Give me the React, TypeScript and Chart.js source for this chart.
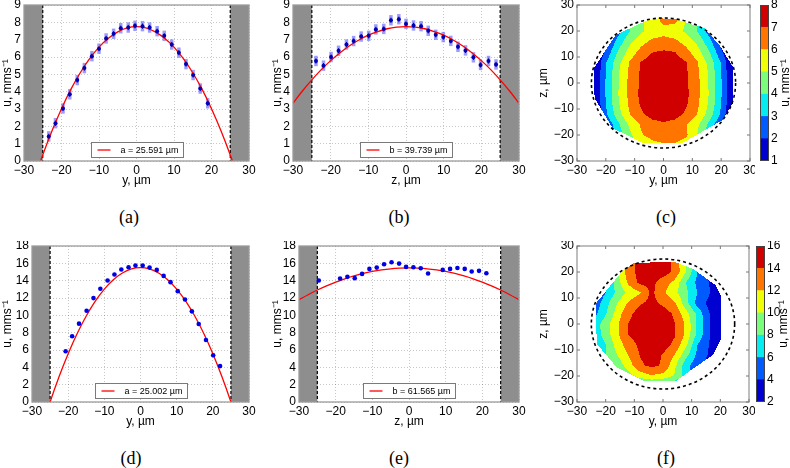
import React, { useEffect, useRef } from "react";
import { Chart, registerables } from "chart.js";

Chart.register(...registerables);
Chart.defaults.font.family = "'Liberation Sans', Arial, Helvetica, sans-serif";
Chart.defaults.font.size = 12;
Chart.defaults.color = "#000";

const AXIS_MIN = -30;
const AXIS_MAX = 30;
const WALL = 25;

// ---------------- (a) u(y) with error bars ----------------
const aPointY = [-23.4, -21.6, -19.6, -17.8, -15.8, -13.9, -11.9, -10.0, -8.1, -6.1, -4.2, -2.2, -0.4, 1.6, 3.5, 5.5, 7.4, 9.4, 11.3, 13.2, 15.1, 17.0, 19.0];
const aPointU = [1.42, 2.18, 3.03, 3.85, 4.67, 5.36, 6.05, 6.48, 7.07, 7.34, 7.66, 7.7, 7.8, 7.78, 7.7, 7.49, 7.22, 6.72, 6.25, 5.59, 4.96, 4.18, 3.33];
const aPointErr = [0.3, 0.3, 0.3, 0.3, 0.3, 0.3, 0.3, 0.3, 0.3, 0.3, 0.3, 0.3, 0.3, 0.3, 0.3, 0.3, 0.3, 0.3, 0.3, 0.3, 0.3, 0.3, 0.3];
const aFitY = [-27.5, -25, -22.5, -20, -17.5, -15, -12.5, -10, -7.5, -5, -2.5, 0, 2.5, 5, 7.5, 10, 12.5, 15, 17.5, 20, 22.5, 25, 27.5];
const aFitU = [-1.2, 0.35, 1.76, 3.02, 4.13, 5.09, 5.9, 6.57, 7.08, 7.45, 7.68, 7.75, 7.68, 7.45, 7.08, 6.57, 5.9, 5.09, 4.13, 3.02, 1.76, 0.35, -1.2];

// ---------------- (b) u(z) with error bars ----------------
const bPointZ = [-23.9, -21.9, -19.9, -17.9, -15.8, -13.9, -11.9, -9.9, -8.0, -5.9, -4.0, -1.9, 0.0, 2.0, 4.0, 5.9, 7.9, 9.9, 11.9, 13.8, 15.8, 17.9, 19.8, 21.9, 23.9];
const bPointU = [5.77, 5.5, 6.0, 6.36, 6.72, 6.92, 7.18, 7.22, 7.59, 7.62, 8.12, 8.18, 7.91, 7.82, 7.78, 7.51, 7.28, 7.15, 6.93, 6.59, 6.38, 5.98, 5.54, 5.77, 5.57];
const bPointErr = [0.3, 0.3, 0.3, 0.3, 0.3, 0.3, 0.3, 0.3, 0.3, 0.3, 0.3, 0.3, 0.3, 0.3, 0.3, 0.3, 0.3, 0.3, 0.3, 0.3, 0.3, 0.3, 0.3, 0.3, 0.3];
const bFitZ = [-30, -27.5, -25, -22.5, -20, -17.5, -15, -12.5, -10, -7.5, -5, -2.5, 0, 2.5, 5, 7.5, 10, 12.5, 15, 17.5, 20, 22.5, 25, 27.5, 30];
const bFitU = [3.33, 4.04, 4.68, 5.27, 5.79, 6.25, 6.65, 6.98, 7.26, 7.47, 7.63, 7.72, 7.75, 7.72, 7.63, 7.47, 7.26, 6.98, 6.65, 6.25, 5.79, 5.27, 4.68, 4.04, 3.33];

// ---------------- (d) u(y) ----------------
const dPointY = [-20.7, -18.9, -17.0, -14.9, -13.0, -11.1, -9.1, -7.2, -5.3, -3.3, -1.4, 0.6, 2.5, 4.5, 6.4, 8.3, 10.3, 12.3, 14.2, 16.1, 18.1, 20.1, 22.0];
const dPointU = [5.86, 7.58, 9.04, 10.53, 11.99, 13.06, 14.02, 14.71, 15.28, 15.55, 15.74, 15.74, 15.51, 15.24, 14.55, 13.83, 12.79, 11.83, 10.46, 9.0, 7.16, 5.4, 4.14];
const dFitY = [-27.5, -25, -22.5, -20, -17.5, -15, -12.5, -10, -7.5, -5, -2.5, 0, 2.5, 5, 7.5, 10, 12.5, 15, 17.5, 20, 22.5, 25, 27.5];
const dFitU = [-3.25, 0.0, 2.95, 5.58, 7.91, 9.92, 11.63, 13.02, 14.11, 14.88, 15.35, 15.5, 15.35, 14.88, 14.11, 13.02, 11.63, 9.92, 7.91, 5.58, 2.95, 0.0, -3.25];

// ---------------- (e) u(z) ----------------
const ePointZ = [-24.6, -18.8, -16.8, -14.8, -12.8, -10.8, -8.8, -6.8, -4.75, -2.7, -0.8, 1.2, 3.2, 5.2, 9.2, 11.2, 13.2, 15.2, 17.1, 19.1, 21.1];
const ePointU = [14.02, 14.25, 14.44, 14.29, 14.78, 15.36, 15.51, 15.89, 16.12, 15.97, 15.59, 15.55, 15.43, 14.82, 15.24, 15.36, 15.47, 15.36, 15.05, 15.13, 14.86];
const eFitZ = [-30, -27.5, -25, -22.5, -20, -17.5, -15, -12.5, -10, -7.5, -5, -2.5, 0, 2.5, 5, 7.5, 10, 12.5, 15, 17.5, 20, 22.5, 25, 27.5, 30];
const eFitU = [11.8, 12.38, 12.92, 13.4, 13.84, 14.22, 14.55, 14.83, 15.06, 15.24, 15.37, 15.44, 15.47, 15.44, 15.37, 15.24, 15.06, 14.83, 14.55, 14.22, 13.84, 13.4, 12.92, 12.38, 11.8];

// ---------------- contour maps (c) and (f) ----------------
const gridY = [-24, -20, -16, -12, -8, -4, 0, 4, 8, 12, 16, 20, 24];
const gridZ = [24, 20, 16, 12, 8, 4, 0, -4, -8, -12, -16, -20, -24];

// (c) u (mm/s) on the grid, one row per z
const cZ24 = [0.5, 0.8, 2.5, 3.9, 4.8, 5.4, 6.3, 6.3, 4.8, 3.9, 2.5, 0.8, 0.5];
const cZ20 = [0.5, 0.8, 2.5, 3.9, 4.8, 5.4, 5.6, 5.4, 4.8, 3.9, 2.5, 0.8, 0.5];
const cZ16 = [0.5, 1.6, 3.3, 4.7, 5.6, 6.2, 6.4, 6.2, 5.6, 4.7, 3.3, 1.6, 0.5];
const cZ12 = [0.5, 2.2, 4.0, 5.3, 6.3, 6.95, 7.1, 7.0, 6.3, 5.3, 4.0, 2.2, 0.5];
const cZ8 = [0.8, 2.9, 4.6, 6.0, 7.0, 7.5, 7.7, 7.5, 7.0, 6.0, 4.6, 2.9, 0.8];
const cZ4 = [0.9, 3.0, 4.8, 6.1, 7.1, 7.7, 7.85, 7.7, 7.1, 6.1, 4.8, 3.0, 0.9];
const cZ0 = [1.0, 3.1, 4.8, 6.2, 7.1, 7.7, 7.9, 7.7, 7.1, 6.2, 4.8, 3.1, 1.0];
const cZm4 = [1.0, 3.1, 4.9, 6.2, 7.2, 7.8, 7.95, 7.8, 7.2, 6.2, 4.9, 3.1, 1.0];
const cZm8 = [0.9, 3.0, 4.8, 6.1, 7.1, 7.7, 7.85, 7.7, 7.1, 6.1, 4.8, 3.0, 0.9];
const cZm12 = [0.7, 2.8, 4.5, 5.9, 6.8, 7.4, 7.6, 7.4, 6.8, 5.9, 4.5, 2.8, 0.7];
const cZm16 = [0.5, 2.0, 3.7, 5.1, 6.05, 6.6, 6.8, 6.6, 6.05, 5.1, 3.7, 2.0, 0.5];
const cZm20 = [0.5, 1.5, 3.3, 4.7, 5.9, 6.3, 6.4, 6.35, 6.1, 4.9, 3.3, 1.5, 0.5];
const cZm24 = [0.5, 1.1, 2.8, 4.2, 5.1, 5.7, 5.9, 5.9, 5.6, 4.2, 2.8, 1.1, 0.5];
const cGrid = [cZ24, cZ20, cZ16, cZ12, cZ8, cZ4, cZ0, cZm4, cZm8, cZm12, cZm16, cZm20, cZm24];
const cHullY = [-1.4, 4.4, 14.2, 19.4, 24.0, 24.0, 20.5, 6.7, -7.2, -17.6, -23.9, -24.2, -16.6, -5.4];
const cHullZ = [24.9, 24.5, 21.0, 14.6, 6.3, -7.8, -14.2, -23.0, -23.0, -17.4, -5.9, 5.6, 18.5, 24.2];
const cLevels = [1, 2, 3, 4, 5, 6, 7, 8];

// (f)
const fZ24 = [2.5, 4.5, 9.5, 12.8, 14.8, 15.2, 15.0, 13.5, 10.0, 6.0, 3.5, 2.0, 1.0];
const fZ20 = [3.0, 5.0, 10.0, 13.0, 14.8, 15.2, 15.0, 13.6, 10.0, 6.0, 3.5, 2.0, 1.0];
const fZ16 = [3.5, 5.5, 9.0, 12.5, 14.5, 14.6, 13.0, 11.5, 8.0, 5.5, 4.0, 2.5, 1.0];
const fZ12 = [4.0, 6.0, 8.5, 10.5, 11.8, 14.5, 12.4, 10.5, 8.5, 6.0, 4.2, 2.5, 1.0];
const fZ8 = [4.5, 7.2, 10.0, 12.3, 13.8, 14.6, 13.6, 12.3, 8.8, 5.2, 3.5, 2.3, 1.0];
const fZ4 = [5.3, 7.8, 11.0, 13.5, 14.9, 15.3, 15.0, 13.7, 10.8, 7.5, 4.1, 2.5, 1.0];
const fZ0 = [6.8, 9.1, 11.7, 14.05, 15.0, 15.4, 15.2, 14.1, 11.7, 7.6, 4.2, 2.5, 1.0];
const fZm4 = [6.6, 9.0, 11.6, 14.1, 15.0, 15.3, 15.1, 14.2, 11.6, 7.5, 4.2, 2.5, 1.0];
const fZm8 = [5.5, 7.9, 10.9, 13.0, 14.5, 15.0, 14.8, 13.6, 10.5, 6.0, 4.0, 2.5, 1.0];
const fZm12 = [5.5, 7.9, 9.9, 12.1, 14.1, 14.6, 13.9, 12.0, 8.6, 5.5, 3.8, 2.5, 1.0];
const fZm16 = [5.0, 7.0, 8.7, 11.0, 13.7, 14.4, 13.8, 10.5, 6.8, 4.5, 3.2, 2.2, 1.0];
const fZm20 = [4.5, 6.2, 7.6, 9.2, 10.8, 11.8, 11.3, 9.8, 7.2, 4.6, 3.0, 2.0, 1.0];
const fZm24 = [3.5, 4.5, 5.5, 6.2, 6.8, 6.6, 6.5, 6.0, 5.0, 3.5, 2.5, 1.5, 1.0];
const fGrid = [fZ24, fZ20, fZ16, fZ12, fZ8, fZ4, fZ0, fZm4, fZm8, fZm12, fZm16, fZm20, fZm24];
const fHullY = [-10.0, 3.9, 10.3, 18.4, 20.4, 20.4, 17.3, 9.7, 4.5, -6.5, -16.3, -23.1, -23.5, -18.7, -14.0];
const fHullZ = [23.5, 23.9, 21.3, 14.9, 10.4, -5.6, -12.0, -17.8, -21.9, -21.9, -16.5, -7.6, 7.8, 14.3, 20.6];
const fLevels = [2, 4, 6, 8, 10, 12, 14, 16];

const jetColors = ["#0000d1", "#005bff", "#06edf1", "#7bff7b", "#f0ff05", "#ff7500", "#d10000"];

const panelLabels = ["(a)", "(b)", "(c)", "(d)", "(e)", "(f)"];
const panelLabelX = [129, 399, 666, 131, 399, 666];
const panelLabelY = [217, 217, 217, 458, 458, 458];

// ---------------- helpers ----------------
const minus = (v: any) => String(v).replace("-", "\u2212");
const fitX = (h: number) => (s: any) => { s.height = h; s.paddingLeft = 0; s.paddingRight = 0; };
const fitY = (w: number) => (s: any) => { s.width = w; s.paddingTop = 0; s.paddingBottom = 0; };
const FRAME = "#9c9c9c";

function framePlugin(withTicks: boolean) {
  return {
    id: "frame",
    afterDraw(chart: any) {
      const { ctx, chartArea: a, scales } = chart;
      ctx.save();
      ctx.strokeStyle = FRAME;
      ctx.lineWidth = 1.3;
      ctx.setLineDash([]);
      ctx.strokeRect(a.left, a.top, a.right - a.left, a.bottom - a.top);
      if (withTicks) {
        ctx.lineWidth = 1;
        ctx.strokeStyle = "#777";
        ctx.beginPath();
        for (const t of scales.x.ticks) {
          const p = scales.x.getPixelForValue(t.value);
          ctx.moveTo(p, a.top); ctx.lineTo(p, a.top + 3);
          ctx.moveTo(p, a.bottom); ctx.lineTo(p, a.bottom - 3);
        }
        for (const t of scales.y.ticks) {
          const p = scales.y.getPixelForValue(t.value);
          ctx.moveTo(a.left, p); ctx.lineTo(a.left + 3, p);
          ctx.moveTo(a.right, p); ctx.lineTo(a.right - 3, p);
        }
        ctx.stroke();
      }
      ctx.restore();
    },
  };
}

const wallPlugin = {
  id: "walls",
  beforeDatasetsDraw(chart: any) {
    const { ctx, chartArea: a, scales } = chart;
    const x = scales.x;
    const l0 = x.getPixelForValue(AXIS_MIN), l1 = x.getPixelForValue(-WALL);
    const r0 = x.getPixelForValue(WALL), r1 = x.getPixelForValue(AXIS_MAX);
    ctx.save();
    ctx.fillStyle = "#8e8e8e";
    ctx.fillRect(l0, a.top, l1 - l0, a.bottom - a.top);
    ctx.fillRect(r0, a.top, r1 - r0, a.bottom - a.top);
    ctx.strokeStyle = "#000";
    ctx.lineWidth = 1.2;
    ctx.setLineDash([3, 2]);
    for (const p of [l1, r0]) {
      ctx.beginPath(); ctx.moveTo(p, a.top); ctx.lineTo(p, a.bottom); ctx.stroke();
    }
    ctx.restore();
  },
};

function errorBarPlugin(xs: number[], us: number[], errs: number[] | null) {
  return {
    id: "errbars",
    beforeDatasetsDraw(chart: any) {
      if (!errs) return;
      const { ctx, scales } = chart;
      ctx.save();
      ctx.strokeStyle = "rgba(90,90,255,0.6)";
      ctx.lineWidth = 3.5;
      xs.forEach((xv, i) => {
        const px = scales.x.getPixelForValue(xv);
        ctx.beginPath();
        ctx.moveTo(px, scales.y.getPixelForValue(us[i] - errs[i]));
        ctx.lineTo(px, scales.y.getPixelForValue(us[i] + errs[i]));
        ctx.stroke();
      });
      ctx.strokeStyle = "#0000a0";
      ctx.lineWidth = 1;
      xs.forEach((xv, i) => {
        const px = scales.x.getPixelForValue(xv);
        ctx.beginPath();
        ctx.moveTo(px, scales.y.getPixelForValue(us[i] - errs[i] * 0.5));
        ctx.lineTo(px, scales.y.getPixelForValue(us[i] + errs[i] * 0.5));
        ctx.stroke();
      });
      ctx.restore();
    },
  };
}

function legendPlugin(label: string) {
  return {
    id: "fitLegend",
    afterDatasetsDraw(chart: any) {
      const { ctx, chartArea: a } = chart;
      const w = 92, h = 15;
      const x0 = Math.round((a.left + a.right) / 2 - w / 2) + 0.5;
      const y0 = Math.round(a.bottom - 4 - h) + 0.5;
      ctx.save();
      ctx.fillStyle = "#fff";
      ctx.fillRect(x0, y0, w, h);
      ctx.strokeStyle = "#7a7a7a";
      ctx.lineWidth = 1;
      ctx.strokeRect(x0, y0, w, h);
      ctx.strokeStyle = "#ff0000";
      ctx.lineWidth = 1.3;
      ctx.beginPath(); ctx.moveTo(x0 + 6, y0 + h / 2); ctx.lineTo(x0 + 19, y0 + h / 2); ctx.stroke();
      ctx.fillStyle = "#000";
      ctx.font = "9px 'Liberation Sans', Arial, sans-serif";
      ctx.textBaseline = "middle";
      ctx.textAlign = "left";
      ctx.fillText(label, x0 + 29, y0 + h / 2 + 0.5);
      ctx.restore();
    },
  };
}

interface ProfileSpec {
  px: number[]; pu: number[]; perr: number[] | null;
  fx: number[]; fu: number[]; fitLabel: string; xTitle: string;
  uMax: number; uStep: number;
  pad: { left: number; top: number; right: number; bottom: number };
  yW: number; xH: number; dotR: number; dotColor: string;
}

function makeProfile(canvas: HTMLCanvasElement, s: ProfileSpec) {
  const axisFont = { size: 12 };
  return new Chart(canvas, {
    type: "line",
    data: {
      datasets: [
        {
          label: "points",
          data: s.px.map((x, i) => ({ x, y: s.pu[i] })),
          showLine: false,
          pointRadius: s.dotR,
          pointBackgroundColor: s.dotColor,
          pointBorderWidth: 0,
          borderColor: s.dotColor,
        } as any,
        {
          label: s.fitLabel,
          data: s.fx.map((x, i) => ({ x, y: s.fu[i] })),
          borderColor: "#ff0000",
          borderWidth: 1.3,
          pointRadius: 0,
          fill: false,
          cubicInterpolationMode: "monotone",
        } as any,
      ],
    },
    options: {
      responsive: false,
      animation: false,
      devicePixelRatio: 1,
      layout: { padding: s.pad, autoPadding: false } as any,
      plugins: { legend: { display: false }, tooltip: { enabled: false } },
      scales: {
        x: {
          type: "linear", min: AXIS_MIN, max: AXIS_MAX,
          ticks: { stepSize: 10, callback: minus, padding: 2, maxRotation: 0, autoSkip: false, font: axisFont },
          grid: { color: "rgba(0,0,0,0.22)", drawTicks: false, lineWidth: 1 },
          border: { display: false, dash: [1, 2] },
          title: { display: true, text: s.xTitle, padding: { top: 0, bottom: 6.8 }, font: axisFont },
          afterFit: fitX(s.xH),
        } as any,
        y: {
          type: "linear", min: 0, max: s.uMax,
          ticks: { stepSize: s.uStep, padding: 3, autoSkip: false, font: axisFont },
          grid: { color: "rgba(0,0,0,0.22)", drawTicks: false, lineWidth: 1 },
          border: { display: false, dash: [1, 2] },
          title: { display: true, text: "u, mms\u207B\u00B9", padding: { top: 0, bottom: 0 }, font: axisFont },
          afterFit: fitY(s.yW),
        } as any,
      },
    },
    plugins: [wallPlugin, errorBarPlugin(s.px, s.pu, s.perr), legendPlugin(s.fitLabel), framePlugin(false)],
  });
}

function inPoly(x: number, y: number, px: number[], py: number[]) {
  let inside = false;
  for (let i = 0, j = px.length - 1; i < px.length; j = i++) {
    if ((py[i] > y) !== (py[j] > y) && x < ((px[j] - px[i]) * (y - py[i])) / (py[j] - py[i]) + px[i]) inside = !inside;
  }
  return inside;
}

function sampleGrid(grid: number[][], x: number, z: number) {
  const nx = gridY.length, nz = gridZ.length;
  let fx = (x - gridY[0]) / (gridY[1] - gridY[0]);
  let fz = (gridZ[0] - z) / (gridZ[0] - gridZ[1]);
  fx = Math.max(0, Math.min(nx - 1, fx));
  fz = Math.max(0, Math.min(nz - 1, fz));
  const i = Math.min(Math.floor(fx), nx - 2);
  const j = Math.min(Math.floor(fz), nz - 2);
  const tx = fx - i, tz = fz - j;
  return (
    grid[j][i] * (1 - tx) * (1 - tz) + grid[j][i + 1] * tx * (1 - tz) +
    grid[j + 1][i] * (1 - tx) * tz + grid[j + 1][i + 1] * tx * tz
  );
}

function contourPlugin(grid: number[][], hy: number[], hz: number[], levels: number[]) {
  return {
    id: "contour",
    beforeDatasetsDraw(chart: any) {
      const { ctx, chartArea: a, scales } = chart;
      ctx.save();
      const colorOf = (v: number) => {
        let k = 0;
        for (let l = 1; l < levels.length - 1; l++) if (v >= levels[l]) k = l;
        return jetColors[k];
      };
      const x0 = Math.floor(a.left), x1 = Math.ceil(a.right);
      for (let py = Math.floor(a.top); py < Math.ceil(a.bottom); py++) {
        const zv = scales.y.getValueForPixel(py + 0.5);
        let runStart = x0, runColor = "";
        for (let px = x0; px <= x1; px++) {
          let col = "";
          if (px < x1) {
            const yv = scales.x.getValueForPixel(px + 0.5);
            if (inPoly(yv, zv, hy, hz)) col = colorOf(sampleGrid(grid, yv, zv));
          }
          if (col !== runColor) {
            if (runColor) { ctx.fillStyle = runColor; ctx.fillRect(runStart, py, px - runStart, 1); }
            runColor = col; runStart = px;
          }
        }
      }
      // channel wall
      const cx = scales.x.getPixelForValue(0), cy = scales.y.getPixelForValue(0);
      const rx = scales.x.getPixelForValue(WALL) - cx, ry = cy - scales.y.getPixelForValue(WALL);
      ctx.strokeStyle = "#000";
      ctx.lineWidth = 1.6;
      ctx.setLineDash([3, 3]);
      ctx.beginPath();
      ctx.ellipse(cx, cy, rx, ry, 0, 0, Math.PI * 2);
      ctx.stroke();
      ctx.restore();
    },
  };
}

interface MapSpec {
  grid: number[][]; hy: number[]; hz: number[]; levels: number[];
  pad: { left: number; top: number; right: number; bottom: number };
  yW: number; xH: number;
}

function makeMap(canvas: HTMLCanvasElement, s: MapSpec) {
  const axisFont = { size: 12 };
  return new Chart(canvas, {
    type: "scatter",
    data: { datasets: [] },
    options: {
      responsive: false,
      animation: false,
      devicePixelRatio: 1,
      layout: { padding: s.pad, autoPadding: false } as any,
      plugins: { legend: { display: false }, tooltip: { enabled: false } },
      scales: {
        x: {
          type: "linear", min: AXIS_MIN, max: AXIS_MAX,
          ticks: { stepSize: 10, callback: minus, padding: 2, maxRotation: 0, autoSkip: false, font: axisFont },
          grid: { display: false, drawTicks: false },
          border: { display: false },
          title: { display: true, text: "y, \u00B5m", padding: { top: 0, bottom: 6.8 }, font: axisFont },
          afterFit: fitX(s.xH),
        } as any,
        y: {
          type: "linear", min: AXIS_MIN, max: AXIS_MAX,
          ticks: { stepSize: 10, callback: minus, padding: 3, autoSkip: false, font: axisFont },
          grid: { display: false, drawTicks: false },
          border: { display: false },
          title: { display: true, text: "z, \u00B5m", padding: { top: 0, bottom: 0 }, font: axisFont },
          afterFit: fitY(s.yW),
        } as any,
      },
    },
    plugins: [contourPlugin(s.grid, s.hy, s.hz, s.levels), framePlugin(true)],
  });
}

function makeColorbar(canvas: HTMLCanvasElement, levels: number[], padL: number, padT: number, padB: number, yW: number, titleX: number) {
  const datasets = levels.slice(0, -1).map((lo, i) => ({
    label: String(lo),
    data: [[lo, levels[i + 1]]],
    backgroundColor: jetColors[i],
    borderWidth: 0,
    grouped: false,
    barPercentage: 1,
    categoryPercentage: 1,
  }));
  const titlePlugin = {
    id: "cbTitle",
    afterDraw(chart: any) {
      const { ctx, chartArea: a } = chart;
      ctx.save();
      ctx.strokeStyle = "#444";
      ctx.lineWidth = 1;
      ctx.strokeRect(a.left + 0.5, a.top + 0.5, a.right - a.left - 1, a.bottom - a.top - 1);
      ctx.translate(titleX, (a.top + a.bottom) / 2);
      ctx.rotate(-Math.PI / 2);
      ctx.fillStyle = "#000";
      ctx.font = "12px 'Liberation Sans', Arial, sans-serif";
      ctx.textAlign = "center";
      ctx.textBaseline = "middle";
      ctx.fillText("u, mms\u207B\u00B9", 0, 0);
      ctx.restore();
    },
  };
  return new Chart(canvas, {
    type: "bar",
    data: { labels: [""], datasets: datasets as any },
    options: {
      responsive: false,
      animation: false,
      devicePixelRatio: 1,
      layout: { padding: { left: padL, top: padT, right: 0, bottom: padB }, autoPadding: false } as any,
      plugins: { legend: { display: false }, tooltip: { enabled: false } },
      scales: {
        x: { display: false },
        y: {
          position: "right",
          min: levels[0], max: levels[levels.length - 1],
          ticks: { stepSize: levels[1] - levels[0], padding: 2, autoSkip: false, font: { size: 12 } },
          grid: { display: false, drawTicks: false },
          border: { display: false },
          afterFit: fitY(yW),
        } as any,
      },
    },
    plugins: [titlePlugin],
  });
}

function ChartBox(props: { left: number; top: number; width: number; height: number; make: (c: HTMLCanvasElement) => Chart }) {
  const ref = useRef<HTMLCanvasElement>(null);
  useEffect(() => {
    const chart = props.make(ref.current!);
    return () => chart.destroy();
  }, []);
  return (
    <canvas
      ref={ref}
      width={props.width}
      height={props.height}
      style={{ position: "absolute", left: props.left, top: props.top, width: props.width, height: props.height }}
    />
  );
}

const specA: ProfileSpec = {
  px: aPointY, pu: aPointU, perr: aPointErr, fx: aFitY, fu: aFitU,
  fitLabel: "a = 25.591 \u00B5m", xTitle: "y, \u00B5m", uMax: 9, uStep: 1,
  pad: { left: 0, top: 5, right: 13, bottom: 0 }, yW: 24, xH: 34, dotR: 2, dotColor: "#0000b0",
};
const specB: ProfileSpec = {
  px: bPointZ, pu: bPointU, perr: bPointErr, fx: bFitZ, fu: bFitU,
  fitLabel: "b = 39.739 \u00B5m", xTitle: "z, \u00B5m", uMax: 9, uStep: 1,
  pad: { left: 0, top: 5, right: 13, bottom: 0 }, yW: 23, xH: 34, dotR: 2, dotColor: "#0000b0",
};
const specD: ProfileSpec = {
  px: dPointY, pu: dPointU, perr: null, fx: dFitY, fu: dFitU,
  fitLabel: "a = 25.002 \u00B5m", xTitle: "y, \u00B5m", uMax: 18, uStep: 2,
  pad: { left: 0, top: 5, right: 13, bottom: 0 }, yW: 32, xH: 34, dotR: 2.3, dotColor: "#0000e6",
};
const specE: ProfileSpec = {
  px: ePointZ, pu: ePointU, perr: null, fx: eFitZ, fu: eFitU,
  fitLabel: "b = 61.565 \u00B5m", xTitle: "z, \u00B5m", uMax: 18, uStep: 2,
  pad: { left: 0, top: 5, right: 13, bottom: 0 }, yW: 29, xH: 34, dotR: 2.3, dotColor: "#0000e6",
};
const specC: MapSpec = {
  grid: cGrid, hy: cHullY, hz: cHullZ, levels: cLevels,
  pad: { left: 0, top: 5, right: 5, bottom: 0 }, yW: 41, xH: 34,
};
const specF: MapSpec = {
  grid: fGrid, hy: fHullY, hz: fHullZ, levels: fLevels,
  pad: { left: 0, top: 5, right: 6, bottom: 0 }, yW: 41, xH: 34,
};

export default function App() {
  return (
    <div style={{ position: "absolute", left: 0, top: 0, width: 790, height: 468, background: "#fff", overflow: "hidden" }}>
      <ChartBox left={0} top={0} width={262} height={195} make={(c) => makeProfile(c, specA)} />
      <ChartBox left={270} top={0} width={262} height={195} make={(c) => makeProfile(c, specB)} />
      <ChartBox left={536} top={0} width={219} height={195} make={(c) => makeMap(c, specC)} />
      <ChartBox left={756} top={0} width={34} height={195} make={(c) => makeColorbar(c, cLevels, 4, 5, 34, 21, 30)} />
      <ChartBox left={0} top={241} width={262} height={195} make={(c) => makeProfile(c, specD)} />
      <ChartBox left={270} top={241} width={262} height={195} make={(c) => makeProfile(c, specE)} />
      <ChartBox left={536} top={241} width={219} height={195} make={(c) => makeMap(c, specF)} />
      <ChartBox left={751} top={241} width={39} height={195} make={(c) => makeColorbar(c, fLevels, 5, 5, 34, 25, 32.5)} />
      {panelLabels.map((t, i) => (
        <div
          key={t}
          style={{
            position: "absolute",
            left: panelLabelX[i],
            top: panelLabelY[i] - 10,
            transform: "translateX(-50%)",
            fontFamily: "'Liberation Serif', 'Times New Roman', serif",
            fontSize: 18,
            lineHeight: "20px",
            color: "#000",
            whiteSpace: "nowrap",
          }}
        >
          {t}
        </div>
      ))}
    </div>
  );
}
